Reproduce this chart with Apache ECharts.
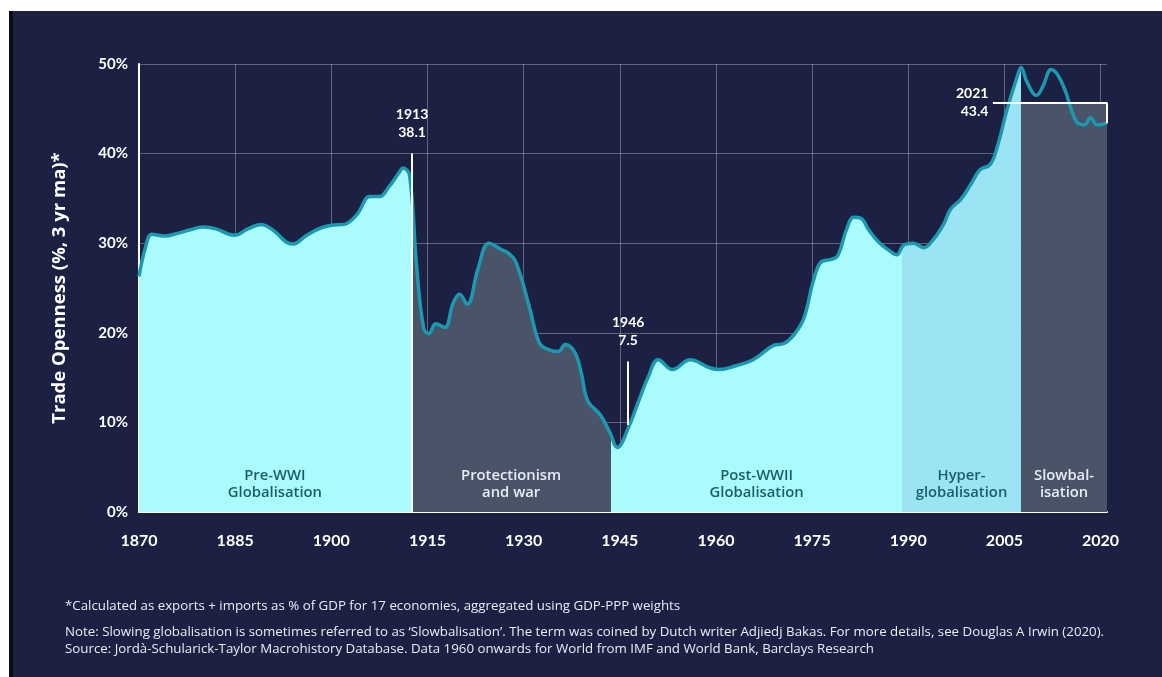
<!DOCTYPE html>
<html>
<head>
<meta charset="UTF-8">
<title>Trade openness</title>
<script src="https://cdn.jsdelivr.net/npm/echarts@6/dist/echarts.min.js"></script>
<style>
  body { margin: 0; background: #fff; }
  #edge { position: absolute; left: 9px; top: 11px; width: 1153px; height: 666px; background: #0a0c18; }
  #panel { position: absolute; left: 13px; top: 11px; width: 1149px; height: 666px; background: #1c2143; }
  #main { position: absolute; left: 0; top: 0; width: 1162px; height: 677px; }
</style>
</head>
<body>
<div id="edge"></div>
<div id="panel"></div>
<div id="main"></div>
<script type="text/javascript">
  // trade openness, % of GDP
  var years = [
    1870, 1871, 1872, 1874, 1876, 1878, 1880, 1882, 1884, 1885,
    1887, 1889, 1891, 1893, 1894, 1896, 1898, 1900, 1902, 1904,
    1906, 1907.5, 1909, 1910.5, 1911.2, 1912.2, 1913.3, 1914.4, 1915.2, 1916.3,
    1917.7, 1919, 1920, 1921.2, 1922.9, 1924.6, 1926.5, 1927.6, 1928.8, 1931,
    1932.5, 1934, 1935.4, 1936.5, 1938, 1939, 1940, 1942, 1943.5, 1944.6,
    1946.4, 1948, 1949.4, 1951, 1953.2, 1956, 1959, 1960.6, 1963, 1965.8,
    1969, 1970.6, 1972.2, 1973.7, 1975.2, 1976.4, 1978, 1979, 1980.4, 1981.5,
    1982.6, 1983.8, 1985.4, 1987, 1988.2, 1989.3, 1990.8, 1992.4, 1993.9, 1995.5,
    1996.6, 1998.2, 1999.7, 2001.2, 2002.8, 2003.9, 2005.4, 2007, 2007.6, 2008.5,
    2010, 2011, 2012.3, 2013.3, 2014.5, 2015.4, 2016.3, 2017.5, 2018.4, 2019.5,
    2021
  ];
  var openness = [
    26.3, 29.5, 31.0, 30.8, 31.1, 31.5, 31.8, 31.6, 31.0, 30.9,
    31.6, 32.1, 31.4, 30.1, 29.9, 30.8, 31.6, 32.0, 32.1, 33.2,
    35.2, 35.2, 36.3, 37.8, 38.4, 37.6, 27.5, 20.5, 19.9, 21.0,
    20.6, 23.3, 24.3, 23.2, 27.2, 30.0, 29.3, 28.9, 27.9, 22.6,
    18.8, 18.1, 17.9, 18.7, 17.8, 15.5, 12.4, 10.8, 8.8, 7.2,
    9.5, 12.5, 15.0, 17.0, 15.9, 17.0, 16.1, 15.9, 16.3, 17.0,
    18.6, 18.8, 19.8, 21.6, 25.8, 27.9, 28.2, 28.6, 31.6, 32.9,
    32.8, 31.5, 30.1, 29.2, 28.7, 29.8, 30.0, 29.5, 30.4, 32.1,
    33.8, 34.9, 36.5, 38.2, 38.8, 40.8, 44.9, 48.6, 49.6, 48.0,
    46.5, 47.5, 49.4, 48.8, 47.0, 45.0, 43.5, 43.2, 44.0, 43.2,
    43.4
  ];

  // eras
  var eraNames = ['Pre-WWI\nGlobalisation', 'Protectionism\nand war', 'Post-WWII\nGlobalisation', 'Hyper-\nglobalisation', 'Slowbal-\nisation'];
  var eraBreaks = [1870, 1912.4, 1943.7, 1989, 2007.6, 2021];
  var eraFill = ['#aafbfb', '#4a5468', '#aafbfb', '#9be4f3', 'rgba(0,0,0,0)'];
  var eraText = ['#1b5d6c', '#e8edf3', '#1b5d6c', '#1b5d6c', '#e8edf3'];
  var slowBoxTop = 45.7;

  // callouts
  var peak1913 = {label: '1913\n38.1', x: 1912.6, from: 0, to: 40};
  var low1946 = {label: '1946\n7.5', x: 1946.3, from: 9.7, to: 16.8};
  var last2021 = {label: '2021\n43.4', from: 2003.2, to: 2021, level: 45.7, end: 43.4};

  var xTicks = {min: 1870, max: 2021, interval: 15};
  var yTicks = {min: 0, max: 50, interval: 10};

  var notes = [
    '*Calculated as exports + imports as % of GDP for 17 economies, aggregated using GDP-PPP weights',
    'Note: Slowing globalisation is sometimes referred to as \u2018Slowbalisation\u2019. The term was coined by Dutch writer Adjiedj Bakas. For more details, see Douglas A Irwin (2020).',
    'Source: Jord\u00e0-Schularick-Taylor Macrohistory Database. Data 1960 onwards for World from IMF and World Bank, Barclays Research'
  ];

  var font = 'Lato, "Open Sans", sans-serif';
  var wide = '"Open Sans", Lato, sans-serif';
  var seriesData = years.map(function (y, i) { return [y, openness[i]]; });

  var pieces = [];
  var eraLabels = [];
  for (var i = 0; i < eraNames.length; i++) {
    var p = {gte: eraBreaks[i], color: eraFill[i]};
    if (i === eraNames.length - 1) { p.lte = eraBreaks[i + 1]; } else { p.lt = eraBreaks[i + 1]; }
    pieces.push(p);
    eraLabels.push({
      coord: [(eraBreaks[i] + eraBreaks[i + 1]) / 2, 0],
      label: {formatter: eraNames[i], color: eraText[i]}
    });
  }

  var myChart = echarts.init(document.getElementById('main'));

  var option = {
    backgroundColor: 'transparent',
    animation: false,
    grid: {left: 139, right: 55, top: 64, bottom: 165},
    graphic: notes.map(function (t, i) {
      return {
        type: 'text', left: 65, top: [600, 626, 643][i], silent: true,
        style: {text: t, fill: '#e9ecf4', font: '13.3px ' + wide}
      };
    }),
    xAxis: {
      type: 'value',
      min: xTicks.min, max: xTicks.max, interval: xTicks.interval,
      axisLine: {show: true, onZero: false, lineStyle: {color: '#ffffff', width: 2}},
      axisTick: {show: false},
      axisLabel: {
        color: '#ffffff', fontFamily: font, fontWeight: 'bold', fontSize: 16,
        margin: 21, showMaxLabel: false,
        formatter: function (v) { return String(v); }
      },
      splitLine: {show: true, showMinLine: false, showMaxLine: false, lineStyle: {color: 'rgba(255,255,255,0.3)', width: 1}}
    },
    yAxis: {
      type: 'value',
      min: yTicks.min, max: yTicks.max, interval: yTicks.interval,
      name: 'Trade Openness (%, 3 yr ma)*',
      nameLocation: 'middle', nameGap: 70,
      nameTextStyle: {color: '#ffffff', fontFamily: wide, fontWeight: 'bold', fontSize: 18.5},
      axisLine: {show: true, lineStyle: {color: '#ffffff', width: 2}},
      axisTick: {show: false},
      axisLabel: {
        color: '#ffffff', fontFamily: font, fontWeight: 'bold', fontSize: 15,
        margin: 11, formatter: '{value}%'
      },
      splitLine: {show: true, lineStyle: {color: 'rgba(255,255,255,0.3)', width: 1}}
    },
    visualMap: {
      show: false, type: 'piecewise', dimension: 0, seriesIndex: 0,
      pieces: pieces
    },
    series: [
      {
        // era fills under the curve
        type: 'line', data: seriesData, smooth: 0.4, showSymbol: false, silent: true,
        lineStyle: {width: 0},
        areaStyle: {opacity: 1},
        markArea: {
          silent: true,
          itemStyle: {color: '#4a5468'},
          data: [[{xAxis: eraBreaks[4], yAxis: 0}, {xAxis: eraBreaks[5], yAxis: slowBoxTop}]]
        }
      },
      {
        type: 'line', data: seriesData, smooth: 0.4, showSymbol: false, silent: true,
        z: 3,
        lineStyle: {color: '#1c99b0', width: 3.5},
        markLine: {
          silent: true, symbol: ['none', 'none'],
          lineStyle: {color: '#ffffff', width: 2, type: 'solid'},
          label: {
            show: true, position: 'end', color: '#ffffff', fontFamily: font,
            fontWeight: 'bold', fontSize: 14, lineHeight: 18, distance: 12
          },
          data: [
            [{coord: [peak1913.x, peak1913.from], label: {formatter: peak1913.label}}, {coord: [peak1913.x, peak1913.to]}],
            [{coord: [low1946.x, low1946.from], label: {formatter: low1946.label}}, {coord: [low1946.x, low1946.to]}],
            [{coord: [last2021.from, last2021.level], label: {show: false}}, {coord: [last2021.to, last2021.level]}],
            [{coord: [last2021.to, last2021.level], label: {show: false}}, {coord: [last2021.to, last2021.end]}]
          ]
        },
        markPoint: {
          silent: true, symbol: 'circle', symbolSize: 1,
          itemStyle: {color: 'rgba(0,0,0,0)'},
          label: {
            show: true, position: 'top', distance: 10, fontFamily: wide,
            fontWeight: 600, fontSize: 14.8, lineHeight: 17, align: 'center'
          },
          data: eraLabels.concat([{
            coord: [last2021.from, last2021.level],
            label: {
              formatter: last2021.label, position: 'left', distance: 4, color: '#ffffff',
              fontFamily: font, fontWeight: 'bold', fontSize: 14, lineHeight: 18, align: 'right'
            }
          }])
        }
      }
    ]
  };

  myChart.setOption(option);
</script>
</body>
</html>
